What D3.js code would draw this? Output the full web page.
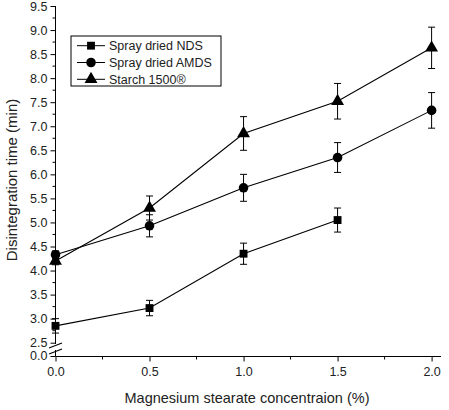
<!DOCTYPE html>
<html>
<head>
<meta charset="utf-8">
<script src="https://cdn.jsdelivr.net/npm/d3@7"></script>
<style>
  body { margin: 0; background: #fff; }
  text { font-family: "Liberation Sans", Arial, sans-serif; }
</style>
</head>
<body>
<script>
// concentrations (%)
var conc = [0, 0.5, 1.0, 1.5, 2.0];
var seriesNames = ['Spray dried NDS', 'Spray dried AMDS', 'Starch 1500\u00AE'];
var ndsValues = [2.85, 3.22, 4.35, 5.05];
var ndsErr = [0.15, 0.16, 0.22, 0.25];
var amdsValues = [4.33, 4.93, 5.72, 6.35, 7.33];
var amdsErr = [0.08, 0.23, 0.28, 0.31, 0.37];
var starchValues = [4.2, 5.3, 6.85, 7.52, 8.63];
var starchErr = [0.08, 0.25, 0.35, 0.37, 0.43];
var xTicks = [0, 0.5, 1.0, 1.5, 2.0];
var yTicks = [2.5, 3.0, 3.5, 4.0, 4.5, 5.0, 5.5, 6.0, 6.5, 7.0, 7.5, 8.0, 8.5, 9.0, 9.5];

var width = 449, height = 410;
var svg = d3.select("body").append("svg").attr("width", width).attr("height", height);

var x = d3.scaleLinear().domain([0, 2.05]).range([55.5, 441]);
var y = d3.scaleLinear().domain([2.5, 9.5]).range([342.7, 6]);
// lower segment below the axis break, only 0.0 shown
var yLow = d3.scaleLinear().domain([0, 0.5]).range([356, 346]);

var series = [
  {name: seriesNames[0], values: ndsValues, err: ndsErr, sym: d3.symbolSquare, size: 62},
  {name: seriesNames[1], values: amdsValues, err: amdsErr, sym: d3.symbolCircle, size: 72},
  {name: seriesNames[2], values: starchValues, err: starchErr, sym: d3.symbolTriangle, size: 72}
];

// x axis
var xAxis = d3.axisBottom(x).tickValues(xTicks).tickSize(5).tickFormat(d3.format(".1f"));
var gx = svg.append("g").attr("transform", "translate(0,356.5)").call(xAxis);
gx.select(".domain").attr("d", "M" + x(0) + ",0H" + x(2.05));
gx.selectAll(".tick text").attr("font-size", 12.5).attr("dy", "0.9em").attr("fill", "#222");
gx.selectAll(".minor").data([0.25, 0.75, 1.25, 1.75]).enter().append("line")
  .attr("class", "minor").attr("stroke", "#000")
  .attr("x1", function(d){return x(d);}).attr("x2", function(d){return x(d);})
  .attr("y1", 0).attr("y2", 3);

// y axis upper part
var yAxis = d3.axisLeft(y).tickValues(yTicks).tickSize(5).tickFormat(d3.format(".1f"));
var gy = svg.append("g").attr("transform", "translate(55.5,0)").call(yAxis);
gy.select(".domain").attr("d", "M0," + y(9.5) + "V344");
gy.selectAll(".tick text").attr("font-size", 12.5).attr("fill", "#222");
var yMinor = d3.range(2.75, 9.5, 0.5);
gy.selectAll(".minor").data(yMinor).enter().append("line")
  .attr("class", "minor").attr("stroke", "#000")
  .attr("y1", function(d){return y(d);}).attr("y2", function(d){return y(d);})
  .attr("x1", 0).attr("x2", -3);

// y axis lower part
var yAxisLow = d3.axisLeft(yLow).tickValues([0]).tickSize(5).tickFormat(d3.format(".1f"));
var gyl = svg.append("g").attr("transform", "translate(55.5,0)").call(yAxisLow);
gyl.select(".domain").attr("d", "M0,350V356.5");
gyl.selectAll(".tick text").attr("font-size", 12.5).attr("fill", "#222").attr("dy", "0.25em");

// break marks
svg.selectAll("line.brk").data([345.5, 351.5]).enter().append("line")
  .attr("class", "brk").attr("stroke", "#000").attr("stroke-width", 1.2)
  .attr("x1", 49).attr("y1", function(d){return d + 2.5;})
  .attr("x2", 62).attr("y2", function(d){return d - 2.5;});

// axis titles
svg.append("text").attr("x", 247).attr("y", 403).attr("text-anchor", "middle")
  .attr("font-size", 14.5).attr("fill", "#222").text("Magnesium stearate concentraion (%)");
svg.append("text").attr("transform", "translate(17,180) rotate(-90)").attr("text-anchor", "middle")
  .attr("font-size", 15).attr("fill", "#222").text("Disintegration time (min)");

var line = d3.line().x(function(d){return x(d.c);}).y(function(d){return y(d.v);});

series.forEach(function(s) {
  var pts = s.values.map(function(v, i){return {c: conc[i], v: v, e: s.err[i]};});
  var g = svg.append("g");
  g.append("path").datum(pts).attr("d", line).attr("fill", "none").attr("stroke", "#000").attr("stroke-width", 1.1);
  var eb = g.selectAll("g.eb").data(pts).enter().append("g").attr("class", "eb");
  eb.append("line").attr("stroke", "#000")
    .attr("x1", function(d){return x(d.c);}).attr("x2", function(d){return x(d.c);})
    .attr("y1", function(d){return y(d.v + d.e);}).attr("y2", function(d){return y(d.v - d.e);});
  eb.selectAll("line.cap").data(function(d){return [d.v + d.e, d.v - d.e].map(function(v){return {c: d.c, v: v};});})
    .enter().append("line").attr("class", "cap").attr("stroke", "#000")
    .attr("x1", function(d){return x(d.c) - 3.5;}).attr("x2", function(d){return x(d.c) + 3.5;})
    .attr("y1", function(d){return y(d.v);}).attr("y2", function(d){return y(d.v);});
  g.selectAll("path.mk").data(pts).enter().append("path").attr("class", "mk")
    .attr("d", d3.symbol().type(s.sym).size(s.size))
    .attr("transform", function(d){return "translate(" + x(d.c) + "," + y(d.v) + ")";})
    .attr("fill", "#000");
});

// legend
var lg = svg.append("g");
lg.append("rect").attr("x", 71).attr("y", 36).attr("width", 150).attr("height", 50)
  .attr("fill", "#fff").attr("stroke", "#000");
var row = lg.selectAll("g.row").data(series).enter().append("g").attr("class", "row")
  .attr("transform", function(d, i){return "translate(0," + (45.7 + i * 16.8) + ")";});
row.append("line").attr("x1", 77).attr("x2", 105).attr("y1", 0).attr("y2", 0).attr("stroke", "#000");
row.append("path").attr("d", function(d){return d3.symbol().type(d.sym).size(d.size)();})
  .attr("transform", "translate(91,0)").attr("fill", "#000");
row.append("text").attr("x", 109).attr("y", 0).attr("dy", "0.35em").attr("font-size", 12.5)
  .attr("fill", "#222").text(function(d){return d.name;});
</script>
</body>
</html>
